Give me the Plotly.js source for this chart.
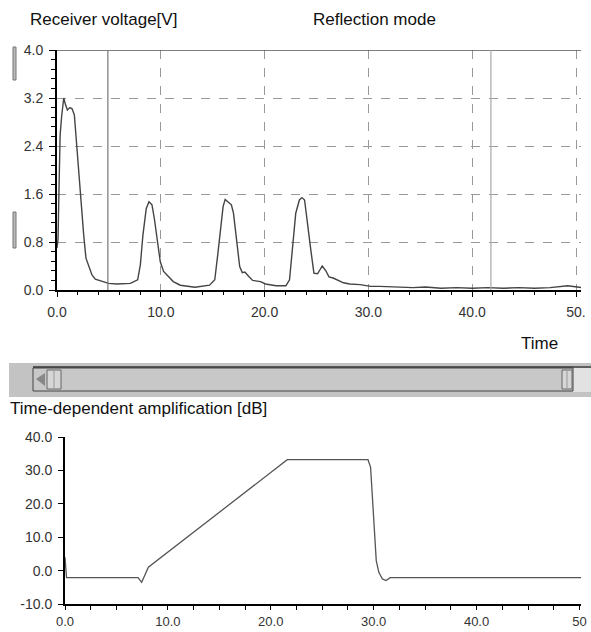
<!DOCTYPE html>
<html><head><meta charset="utf-8">
<script src="https://cdn.plot.ly/plotly-3.0.1.min.js"></script>
<style>html,body{margin:0;padding:0;background:#fff}#c{width:591px;height:632px}</style>
</head><body><div id="c"></div>
<script>
// Receiver voltage (reflection mode)
const timeRx = [0,0.1,0.2,0.3,0.45,0.65,0.8,1.0,1.25,1.45,1.67,1.93,2.25,2.57,2.79,3.05,3.37,3.69,4.17,4.97,5.78,6.26,7.06,7.77,8.03,8.28,8.6,8.86,9.15,9.37,9.63,9.95,10.27,10.75,11.2,11.88,13.3,14.7,15.2,15.5,15.75,16.0,16.2,16.5,16.8,17.0,17.3,17.6,17.85,18.1,18.5,18.85,19.6,20.1,21.1,22.05,22.4,22.7,23.0,23.35,23.6,23.85,24.1,24.45,24.75,25.1,25.55,25.9,26.2,26.6,27.6,28.2,29.2,30.2,31.1,32.7,34.3,35.5,37,38.5,40,41.5,43,44.5,46,47.5,49.2,50.5];
const voltRx = [0.7,0.85,1.75,2.58,2.9,3.2,3.1,3.0,3.04,3.02,2.92,2.3,1.58,0.92,0.53,0.39,0.25,0.18,0.15,0.11,0.1,0.1,0.11,0.17,0.42,0.92,1.36,1.47,1.42,1.2,0.86,0.47,0.31,0.22,0.14,0.08,0.045,0.08,0.17,0.61,1.06,1.39,1.51,1.47,1.42,1.28,0.83,0.39,0.29,0.3,0.22,0.16,0.14,0.1,0.07,0.07,0.17,0.72,1.28,1.5,1.54,1.5,1.11,0.67,0.28,0.27,0.4,0.32,0.22,0.2,0.12,0.1,0.09,0.06,0.06,0.05,0.04,0.05,0.03,0.04,0.03,0.04,0.03,0.04,0.03,0.04,0.07,0.04];
const cursorTimes = [4.9, 41.8];

// Time-dependent amplification
const timeAmp = [0,0.08,0.15,7.1,7.3,7.45,7.67,8.1,21.6,29.45,29.7,29.93,30.1,30.25,30.5,30.85,31.2,31.6,50.15];
const gainAmp = [4.0,1.0,-2.1,-2.1,-2.8,-3.5,-2.0,1.0,33.2,33.2,30.9,20,10,3,-0.5,-2.5,-3.0,-2.1,-2.1];

// tick labels
const rxXTicks = [0,10,20,30,40,50];
const rxXLabels = ["0.0","10.0","20.0","30.0","40.0","50."];
const rxYTicks = [0,0.8,1.6,2.4,3.2,4.0];
const rxYLabels = ["0.0","0.8","1.6","2.4","3.2","4.0"];
const ampXTicks = [0,10,20,30,40,50];
const ampXLabels = ["0.0","10.0","20.0","30.0","40.0","50"];
const ampYTicks = [-10,0,10,20,30,40];
const ampYLabels = ["-10.0","0.0","10.0","20.0","30.0","40.0"];

const W = 591, H = 632;
const px = x => x / W, py = y => 1 - y / H;
const FONT = "Liberation Sans, Arial, sans-serif";
const tickFont = {family: FONT, size: 14, color: "#333"};
const tickFont2 = {family: FONT, size: 13, color: "#333"};

const traces = [
  {x: timeRx, y: voltRx, xaxis: "x", yaxis: "y", mode: "lines",
   line: {color: "#444", width: 1.4}, hoverinfo: "skip"},
  {x: timeAmp, y: gainAmp, xaxis: "x2", yaxis: "y2", mode: "lines",
   line: {color: "#555", width: 1.3}, hoverinfo: "skip"}
];

const shapes = [];
// top frame line
shapes.push({type: "line", xref: "x", yref: "y", x0: 0, x1: 50.48, y0: 4, y1: 4,
  line: {color: "#555", width: 1.5}, layer: "above"});
// cursors
cursorTimes.forEach((t, i) => shapes.push({type: "line", xref: "x", yref: "y",
  x0: t, x1: t, y0: 0, y1: 4, line: {color: i === 0 ? "#777" : "#aaa", width: 1.2}}));
// left handles
[[47, 80], [212, 248]].forEach(([a, b]) => shapes.push({type: "rect", xref: "paper", yref: "paper",
  x0: px(13), x1: px(16), y0: py(b), y1: py(a), fillcolor: "#bbb", line: {color: "#777", width: 1}}));
// scrollbar band
shapes.push({type: "rect", xref: "paper", yref: "paper", x0: px(9), x1: px(591), y0: py(397), y1: py(363),
  fillcolor: "#c3c3c3", line: {width: 0}, layer: "below"});
shapes.push({type: "rect", xref: "paper", yref: "paper", x0: px(573), x1: px(591), y0: py(392), y1: py(366),
  fillcolor: "#e2e2e2", line: {width: 0}});
// track
shapes.push({type: "rect", xref: "paper", yref: "paper", x0: px(33), x1: px(573), y0: py(391), y1: py(368),
  fillcolor: "#c8c8c8", line: {color: "#444", width: 1}});
shapes.push({type: "line", xref: "paper", yref: "paper", x0: px(33), x1: px(591), y0: py(367), y1: py(367),
  line: {color: "#333", width: 1.5}});
// left arrow
shapes.push({type: "path", xref: "paper", yref: "paper",
  path: `M ${px(36)} ${py(379)} L ${px(45)} ${py(373)} L ${px(45)} ${py(386)} Z`,
  fillcolor: "#888", line: {width: 0}});
// thumbs
[[47, 61], [562, 572]].forEach(([a, b]) => {
  shapes.push({type: "rect", xref: "paper", yref: "paper", x0: px(a), x1: px(b), y0: py(389), y1: py(370),
    fillcolor: "#d6d6d6", line: {color: "#666", width: 1}});
  shapes.push({type: "line", xref: "paper", yref: "paper", x0: px((a + b) / 2), x1: px((a + b) / 2), y0: py(388), y1: py(371),
    line: {color: "#999", width: 1}});
});

const ann = (text, x, y, xanchor, size) => ({text, x: px(x), y: py(y), xref: "paper", yref: "paper",
  xanchor, yanchor: "middle", showarrow: false, font: {family: FONT, size, color: "#111"}});

const layout = {
  width: W, height: H, margin: {l: 0, r: 0, t: 0, b: 0},
  paper_bgcolor: "#fff", plot_bgcolor: "#fff", showlegend: false,
  xaxis: {domain: [px(57), px(581)], range: [0, 50.48], anchor: "y",
    tickmode: "array", tickvals: rxXTicks, ticktext: rxXLabels, tickfont: tickFont,
    ticks: "outside", ticklen: 5, tickcolor: "#000", ticklabelstandoff: 3,
    showline: true, linecolor: "#000", linewidth: 2,
    showgrid: true, gridcolor: "#999", griddash: "dash", gridwidth: 1, zeroline: false,
    minor: {tickmode: "linear", tick0: 0, dtick: 2, ticks: "outside", ticklen: 3, tickcolor: "#000", showgrid: false}},
  yaxis: {domain: [py(290), py(50)], range: [0, 4], anchor: "x",
    tickmode: "array", tickvals: rxYTicks, ticktext: rxYLabels, tickfont: tickFont,
    ticks: "outside", ticklen: 6, tickcolor: "#000", ticklabelstandoff: 3,
    showline: true, linecolor: "#000", linewidth: 2,
    showgrid: true, gridcolor: "#999", griddash: "dash", gridwidth: 1, zeroline: false,
    minor: {tickmode: "linear", tick0: 0, dtick: 0.16, ticks: "outside", ticklen: 4, tickcolor: "#000", showgrid: false}},
  xaxis2: {domain: [px(65), px(581)], range: [0, 50.15], anchor: "y2",
    tickmode: "array", tickvals: ampXTicks, ticktext: ampXLabels, tickfont: tickFont2,
    ticks: "outside", ticklen: 4, tickcolor: "#000", ticklabelstandoff: 0,
    showline: true, linecolor: "#000", linewidth: 2, showgrid: false, zeroline: false,
    minor: {tickmode: "linear", tick0: 0, dtick: 2.5, ticks: "outside", ticklen: 4, tickcolor: "#000", showgrid: false}},
  yaxis2: {domain: [py(604), py(437)], range: [-10, 40], anchor: "x2",
    tickmode: "array", tickvals: ampYTicks, ticktext: ampYLabels, tickfont: tickFont,
    ticks: "outside", ticklen: 5, tickcolor: "#000", ticklabelstandoff: 3,
    showline: true, linecolor: "#000", linewidth: 2, showgrid: false, zeroline: false},
  shapes,
  annotations: [
    ann("Receiver voltage[V]", 28, 19, "left", 17),
    ann("Reflection mode", 311, 19, "left", 17),
    ann("Time", 560, 343, "right", 17),
    ann("Time-dependent amplification [dB]", 8, 408, "left", 17)
  ]
};

Plotly.newPlot("c", traces, layout, {displayModeBar: false, staticPlot: true});
</script></body></html>
